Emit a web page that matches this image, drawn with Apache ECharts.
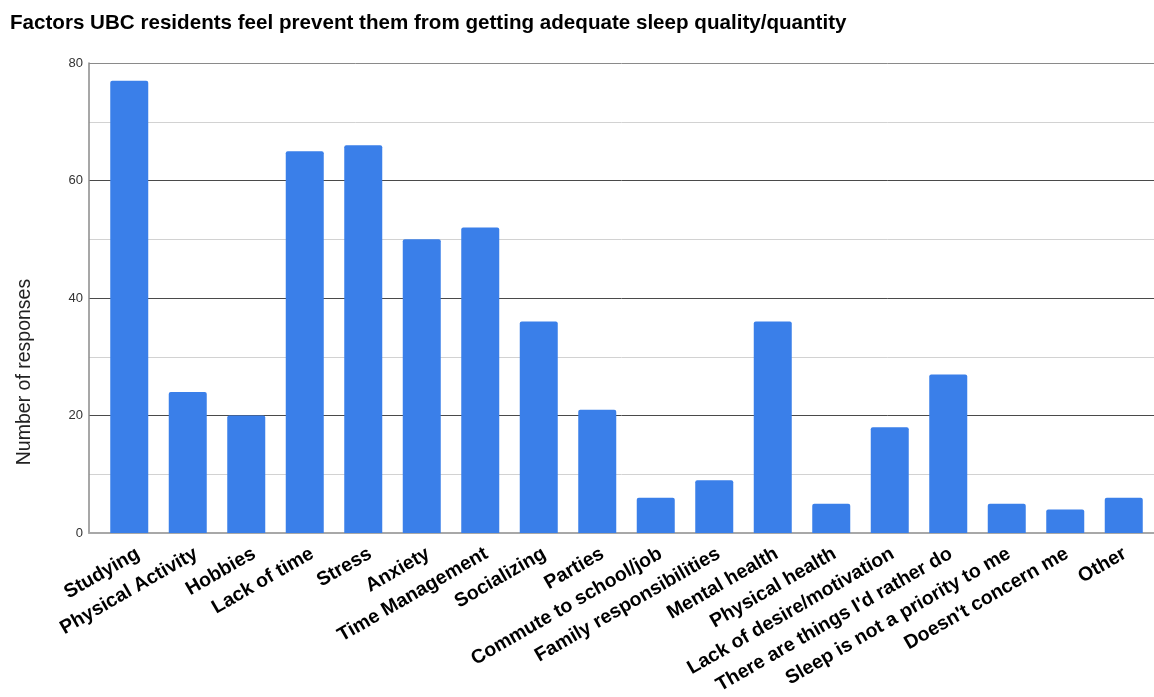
<!DOCTYPE html>
<html>
<head>
<meta charset="utf-8">
<script src="https://cdn.jsdelivr.net/npm/echarts@6/dist/echarts.min.js"></script>
<style>
  html, body { margin: 0; padding: 0; background: #fff; }
  #chart { width: 1154px; height: 697px; }
</style>
</head>
<body>
<div id="chart"></div>
<script>
const titleText = 'Factors UBC residents feel prevent them from getting adequate sleep quality/quantity';
const yAxisTitle = 'Number of responses';

const factors = [
  'Studying', 'Physical Activity', 'Hobbies', 'Lack of time', 'Stress', 'Anxiety',
  'Time Management', 'Socializing', 'Parties', 'Commute to school/job',
  'Family responsibilities', 'Mental health', 'Physical health',
  'Lack of desire/motivation', "There are things I'd rather do",
  'Sleep is not a priority to me', "Doesn't concern me", 'Other'
];
const responses = [77, 24, 20, 65, 66, 50, 52, 36, 21, 6, 9, 36, 5, 18, 27, 5, 4, 6];

const yMin = 0, yMax = 80, yStep = 20;

const FONT = '"Liberation Sans", Arial, sans-serif';

const chart = echarts.init(document.getElementById('chart'), null, { renderer: 'canvas' });

chart.setOption({
  animation: false,
  backgroundColor: '#ffffff',
  title: {
    text: titleText,
    left: 5,
    top: 8,
    textStyle: { fontFamily: FONT, fontSize: 20.6, fontWeight: 'bold', color: '#000' }
  },
  graphic: [{
    type: 'text',
    rotation: Math.PI / 2,
    x: 25, y: 372,
    style: {
      text: yAxisTitle,
      fontFamily: FONT,
      fontSize: 19.5,
      fill: '#222',
      align: 'center',
      verticalAlign: 'middle'
    }
  }],
  grid: [
    // value frame: gridlines, y labels, left axis line
    { left: 89, right: 0, top: 63, bottom: 164 },
    // category band for the bars
    { left: 100, right: 1, top: 63, bottom: 164 },
    // same bands nudged right, carrying the slanted category labels
    { left: 109, right: -8, top: 63, bottom: 164 }
  ],
  xAxis: [
    {
      gridIndex: 0, type: 'value', min: 0, max: 1,
      axisLabel: { show: false }, axisTick: { show: false }, splitLine: { show: false },
      axisLine: { show: true, lineStyle: { color: '#a8a8a8', width: 2 } }
    },
    {
      gridIndex: 1, type: 'category', data: factors,
      axisLine: { show: false }, axisTick: { show: false }, axisLabel: { show: false }
    },
    {
      gridIndex: 2, type: 'category', data: factors,
      axisLine: { show: false }, axisTick: { show: false },
      axisLabel: {
        interval: 0, rotate: 30, margin: 22,
        fontFamily: FONT, fontSize: 19.5, fontWeight: 'bold', color: '#000'
      }
    }
  ],
  yAxis: [
    {
      gridIndex: 0, type: 'value', min: yMin, max: yMax, interval: yStep,
      axisLine: { show: true, lineStyle: { color: '#8a8a8a', width: 1.5 } },
      axisTick: { show: false },
      axisLabel: { fontFamily: FONT, fontSize: 13, color: '#333', margin: 6 },
      splitLine: { show: true, lineStyle: { color: ['#a8a8a8', '#4a4a4a', '#4a4a4a', '#4a4a4a', '#8a8a8a'], width: 1 } },
      minorTick: { show: false, splitNumber: 2 },
      minorSplitLine: { show: true, lineStyle: { color: '#d2d2d2', width: 1 } }
    },
    {
      gridIndex: 1, type: 'value', min: yMin, max: yMax, interval: yStep, show: false,
      splitLine: { show: false }
    },
    {
      gridIndex: 2, type: 'value', min: yMin, max: yMax, interval: yStep, show: false,
      splitLine: { show: false }
    }
  ],
  series: [{
    type: 'bar',
    xAxisIndex: 1,
    yAxisIndex: 1,
    data: responses,
    barWidth: 38,
    itemStyle: { color: '#3a7fe9', borderRadius: [2, 2, 0, 0] }
  }]
});
</script>
</body>
</html>
